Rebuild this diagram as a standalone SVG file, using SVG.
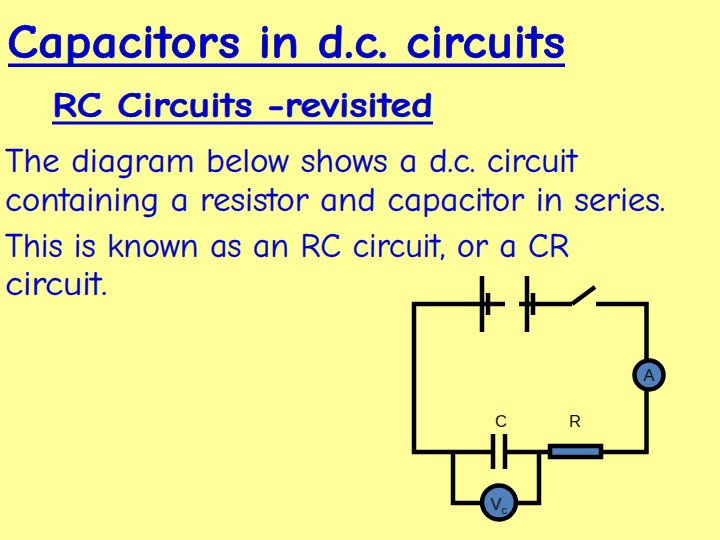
<svg xmlns="http://www.w3.org/2000/svg" width="720" height="540" viewBox="0 0 720 540">
<style>
.t{font-family:"Comic Neue","Comic Sans MS","DejaVu Sans",sans-serif;fill:#0000cc;font-weight:bold}
.b{font-size:34px;font-weight:normal;stroke:#0000cc;stroke-width:.3}
.h{stroke:#0000cc;stroke-width:.6}
.w{fill:none;stroke:#000;stroke-width:4.5}
.m{fill:#4f81bd;stroke:#000}
.l{font-family:"Liberation Sans",Arial,sans-serif;font-size:16.500px;fill:#111}
</style>
<rect width="720" height="540" fill="#ffff99"/>
<text class="t h" x="7" y="58" font-size="48" textLength="558" lengthAdjust="spacingAndGlyphs">Capacitors in d.c. circuits</text>
<rect x="8" y="63.500" width="557" height="3.500" fill="#0000cc"/>
<text class="t h" x="52" y="117" font-size="36" textLength="381" lengthAdjust="spacingAndGlyphs">RC Circuits -revisited</text>
<rect x="52" y="121.500" width="381" height="3" fill="#0000cc"/>
<text class="t b" x="5" y="172" textLength="572" lengthAdjust="spacingAndGlyphs">The diagram below shows a d.c. circuit</text>
<text class="t b" x="5" y="211" textLength="660" lengthAdjust="spacingAndGlyphs">containing a resistor and capacitor in series.</text>
<text class="t b" x="5" y="257" textLength="564" lengthAdjust="spacingAndGlyphs">This is known as an RC circuit, or a CR</text>
<text class="t b" x="5" y="295" textLength="102" lengthAdjust="spacingAndGlyphs">circuit.</text>
<g id="connectors">
<path class="w" d="M482 304H414V452H493M505 452H550M601 452H646.500V304H596M572 304H519M505 304H482"/>
<path class="w" d="M572 304L595 287M453 452V503H482M539 452V503H516"/>
</g>
<g id="battery"><path class="w" d="M482 276V332M488 293V315M527 276V332M533 293V315"/></g>
<g id="resistor"><rect x="550" y="446" width="51" height="11" fill="#4f81bd" stroke="#000" stroke-width="4.500"/><text class="l" x="575" y="427" text-anchor="middle">R</text></g>
<g id="capacitor"><path class="w" d="M493 434V469M505 434V469"/><text class="l" x="501" y="427" text-anchor="middle">C</text></g>
<g id="ammeter"><circle class="m" cx="649" cy="375" r="14.500" stroke-width="4.500"/><text class="l" x="649" y="381" text-anchor="middle">A</text></g>
<g id="voltmeter"><circle class="m" cx="499" cy="502.500" r="17" stroke-width="4.500"/><text class="l" x="490.500" y="510">V<tspan font-size="11" dy="4">c</tspan></text></g>
</svg>
